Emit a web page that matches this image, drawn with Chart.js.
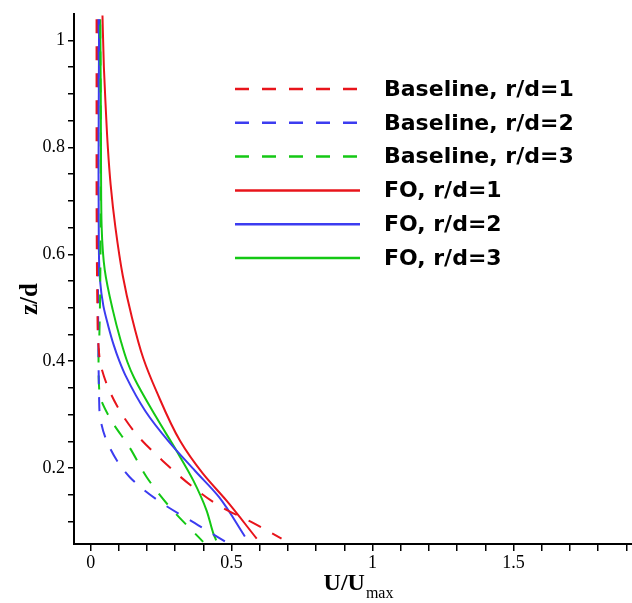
<!DOCTYPE html>
<html><head><meta charset="utf-8">
<style>html,body{margin:0;padding:0;background:#fff;}#wrap{width:632px;height:603px;position:relative;}</style>
<script src="https://cdn.jsdelivr.net/npm/chart.js@4.4.1/dist/chart.umd.min.js"></script>
</head><body><div id="wrap"><canvas id="c"></canvas></div>
<script>
const seriesNames = ['Baseline, r/d=1','Baseline, r/d=2','Baseline, r/d=3','FO, r/d=1','FO, r/d=2','FO, r/d=3'];
const xTickLabels = [0, 0.5, 1, 1.5];
const yTickLabels = [0.2, 0.4, 0.6, 0.8, 1];

// Baseline r/d=1
const base1U = [0.021,0.021,0.021,0.022,0.024,0.027,0.039,0.092,0.163,0.257,0.364,0.464,0.571,0.677];
const base1Z = [1.040,0.900,0.750,0.600,0.500,0.436,0.386,0.318,0.263,0.213,0.164,0.127,0.099,0.068];
// Baseline r/d=2
const base2U = [0.026,0.026,0.026,0.027,0.029,0.030,0.034,0.068,0.139,0.240,0.382,0.488];
const base2Z = [1.040,0.800,0.600,0.450,0.360,0.331,0.294,0.238,0.183,0.139,0.093,0.059];
// Baseline r/d=3
const base3U = [0.034,0.036,0.035,0.031,0.028,0.031,0.068,0.139,0.199,0.281,0.399];
const base3Z = [1.030,0.800,0.600,0.450,0.405,0.343,0.294,0.238,0.183,0.127,0.062];
// FO r/d=1
const fo1U = [0.042,0.047,0.053,0.061,0.071,0.088,0.114,0.145,0.187,0.234,0.317,0.399,0.482,0.589];
const fo1Z = [1.047,0.950,0.880,0.800,0.730,0.650,0.560,0.485,0.405,0.343,0.251,0.189,0.139,0.068];
// FO r/d=2
const fo2U = [0.030,0.029,0.028,0.029,0.033,0.045,0.062,0.082,0.102,0.123,0.195,0.275,0.370,0.455,0.547];
const fo2Z = [1.040,0.900,0.750,0.620,0.553,0.504,0.467,0.430,0.400,0.374,0.306,0.251,0.195,0.146,0.072];
// FO r/d=3
const fo3U = [0.034,0.036,0.037,0.039,0.050,0.078,0.108,0.130,0.155,0.234,0.305,0.364,0.411,0.435,0.445];
const fo3Z = [1.040,0.900,0.750,0.652,0.571,0.497,0.436,0.399,0.368,0.294,0.232,0.177,0.121,0.078,0.065];

const RED = '#e8141b', BLUE = '#3c3cf0', GREEN = '#14c814';
const pts = (u, z) => u.map((v, i) => ({x: v, y: z[i]}));
const DASH = [14, 13];

function ds(i, u, z, color, dashed) {
  return {label: seriesNames[i], data: pts(u, z), borderColor: color, backgroundColor: color,
    borderWidth: 2, borderDash: dashed ? DASH : [], pointRadius: 0, cubicInterpolationMode: 'monotone', fill: false};
}

const xTicks = []; for (let k = 0; k <= 19; k++) xTicks.push(k / 10);
const yTicks = []; for (let k = 2; k <= 20; k++) yTicks.push(Math.round(k * 5) / 100);

const serif = "'Liberation Serif', 'Times New Roman', serif";

const overlay = {
  id: 'overlay',
  afterDraw(chart) {
    const ctx = chart.ctx;
    ctx.save();
    ctx.fillStyle = '#000';
    ctx.save();
    ctx.translate(31, 299);
    ctx.rotate(-Math.PI / 2);
    ctx.font = 'bold 25px ' + serif;
    ctx.textAlign = 'center'; ctx.textBaseline = 'middle';
    ctx.fillText('z/d', 0, 0);
    ctx.restore();
    ctx.font = 'bold 24px ' + serif;
    const w1 = ctx.measureText('U/U').width;
    ctx.font = '16px ' + serif;
    const w2 = ctx.measureText('max').width;
    const x0 = 358 - (w1 + w2) / 2;
    ctx.textAlign = 'left'; ctx.textBaseline = 'alphabetic';
    ctx.font = 'bold 24px ' + serif;
    ctx.fillText('U/U', x0, 590);
    ctx.font = '16px ' + serif;
    ctx.fillText('max', x0 + w1 + 1, 598);
    chart.data.datasets.forEach((d, i) => {
      const y = 89 + i * 33.8;
      ctx.save();
      ctx.strokeStyle = d.borderColor; ctx.lineWidth = 2.5;
      ctx.setLineDash(d.borderDash);
      ctx.beginPath(); ctx.moveTo(235, y); ctx.lineTo(360, y); ctx.stroke();
      ctx.restore();
      ctx.font = "bold 22px 'DejaVu Sans', sans-serif";
      ctx.textBaseline = 'middle'; ctx.textAlign = 'left';
      ctx.fillText(d.label, 384, y + 1);
    });
    ctx.restore();
  }
};

new Chart(document.getElementById('c'), {
  type: 'line',
  data: {datasets: [
    ds(0, base1U, base1Z, RED, true),
    ds(1, base2U, base2Z, BLUE, true),
    ds(2, base3U, base3Z, GREEN, true),
    ds(3, fo1U, fo1Z, RED, false),
    ds(4, fo2U, fo2Z, BLUE, false),
    ds(5, fo3U, fo3Z, GREEN, false)
  ]},
  options: {
    indexAxis: 'y',
    responsive: true, maintainAspectRatio: false, animation: false, devicePixelRatio: 1,
    layout: {padding: {top: 8, right: 0, left: 0, bottom: 0}},
    plugins: {legend: {display: false}, tooltip: {enabled: false}},
    scales: {
      x: {type: 'linear', min: -0.059, max: 1.92,
        afterBuildTicks: s => { s.ticks = xTicks.map(v => ({value: v})); },
        afterFit: s => { s.height = 59; },
        ticks: {autoSkip: false, maxRotation: 0, padding: 1, color: '#000', font: {family: serif, size: 18},
          callback: v => xTickLabels.some(t => Math.abs(t - v) < 1e-6) ? String(v) : ''},
        grid: {drawOnChartArea: false, drawTicks: true, tickLength: 7, color: '#000', lineWidth: 1.5},
        border: {display: true, color: '#000', width: 2}
      },
      y: {type: 'linear', min: 0.058, max: 1.05,
        afterBuildTicks: s => { s.ticks = yTicks.map(v => ({value: v})); },
        afterFit: s => { s.width = 74; },
        ticks: {autoSkip: false, padding: 3, color: '#000', font: {family: serif, size: 18},
          callback: v => yTickLabels.some(t => Math.abs(t - v) < 1e-6) ? String(v) : ''},
        grid: {drawOnChartArea: false, drawTicks: true, tickLength: 6, color: '#000', lineWidth: 1.5},
        border: {display: true, color: '#000', width: 2}
      }
    }
  },
  plugins: [overlay]
});
</script></body></html>
